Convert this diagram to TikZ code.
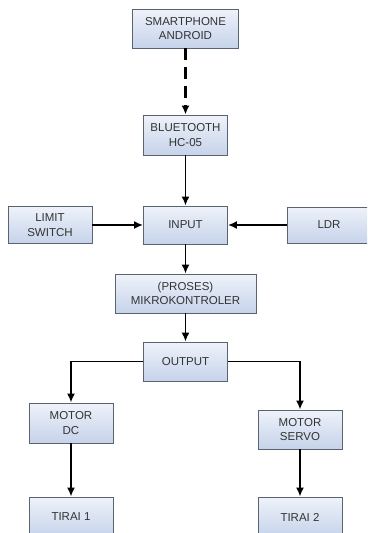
\documentclass[tikz,border=0pt]{standalone}
\usepackage{fontspec}
\setmainfont{Liberation Sans}
\usepackage{xcolor}
\usepackage{tikz}
\usetikzlibrary{arrows.meta,calc,positioning}
\definecolor{ink}{HTML}{333333}
\definecolor{rim}{HTML}{5A6470}
\definecolor{boxtop}{HTML}{EEF2FA}
\definecolor{boxbot}{HTML}{C6D3EA}

\begin{document}
\begin{tikzpicture}[x=1pt,y=-1pt,
 font=\fontsize{11.5}{14.5}\selectfont,
 blok/.style={draw=rim,line width=0.9pt,top color=boxtop,bottom color=boxbot,
  text=ink,align=center,inner sep=0pt},
 panah/.style={line width=1.7pt,-{Latex[length=9pt,width=8pt]}}]
\useasboundingbox (0,0) rectangle (367,533);
\clip (0,0) rectangle (367,533);
% boxes: name/centre x/centre y/width/height/text
\foreach \nm/\xx/\yy/\w/\h/\txt in {
 hp/185.5/28.5/106/39/{SMARTPHONE\\ANDROID},
 bt/185.5/135/84/40/{BLUETOOTH\\HC-05},
 input/185.5/225/84/38/{INPUT},
 limit/50/225/84/37/{LIMIT\\SWITCH},
 ldr/329/225/84/36/{LDR},
 mcu/185.5/293.5/141/39/{(PROSES)\\MIKROKONTROLER},
 output/185.5/361.5/84/39/{OUTPUT},
 dc/71/423/84/40/{MOTOR\\DC},
 servo/300/429.5/84/39/{MOTOR\\SERVO},
 tirai1/71/517/84/40/{TIRAI 1},
 tirai2/300/517/84/40/{TIRAI 2}} {
 \node[blok,minimum width=\w pt,minimum height=\h pt] (\nm) at (\xx,\yy) {\txt};
}
% connectors
\draw[panah,line width=2.6pt,dash pattern=on 12pt off 7pt] (hp.south) -- (bt.north);
\draw[panah] (bt) -- (input);
\draw[panah] (limit) -- (input);
\draw[panah] (ldr) -- (input);
\draw[panah] (input) -- (mcu);
\draw[panah] (mcu) -- (output);
\draw[panah] (output.west) -| (dc.north);
\draw[panah] (output.east) -| (servo.north);
\draw[panah] (dc) -- (tirai1);
\draw[panah] (servo) -- (tirai2);
\end{tikzpicture}
\end{document}
